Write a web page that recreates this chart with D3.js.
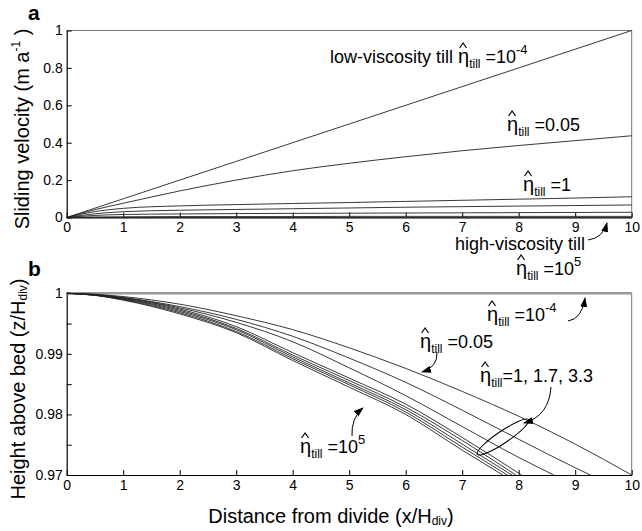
<!DOCTYPE html>
<html>
<head>
<meta charset="utf-8">
<script src="https://cdn.jsdelivr.net/npm/d3@7"></script>
<style>
  html, body { margin: 0; padding: 0; background: #fff; }
  svg text { font-family: "Liberation Sans", Arial, Helvetica, sans-serif; fill: #000; }
</style>
</head>
<body>
<div id="chart"></div>
<script>
// ---- data: panel a, sliding velocity (m/a) vs x/Hdiv ----------------------------
const xA = [0, 0.5, 1, 2, 3, 4, 5, 6, 7, 8, 9, 10];
const velEta1e4 = [0, 0.05, 0.1, 0.2, 0.3, 0.4, 0.5, 0.6, 0.7, 0.8, 0.9, 1.0];
const velEta005 = [0, 0.042, 0.076, 0.142, 0.2, 0.25, 0.29, 0.325, 0.357, 0.385, 0.411, 0.437];
const velEta1   = [0, 0.032, 0.049, 0.062, 0.069, 0.075, 0.08, 0.086, 0.092, 0.098, 0.104, 0.111];
const velEta17  = [0, 0.02, 0.031, 0.039, 0.043, 0.047, 0.051, 0.055, 0.058, 0.061, 0.064, 0.067];
const velEta33  = [0, 0.011, 0.016, 0.019, 0.021, 0.022, 0.023, 0.024, 0.025, 0.026, 0.027, 0.028];
const velEta10  = [0, 0.003, 0.004, 0.005, 0.005, 0.005, 0.006, 0.006, 0.006, 0.006, 0.006, 0.006];
const velEta1e5 = [0, 0, 0, 0, 0, 0, 0, 0, 0, 0, 0, 0];
const seriesA = [velEta1e4, velEta005, velEta1, velEta17, velEta33, velEta10, velEta1e5];

// ---- data: panel b, surface height z/Hdiv vs x/Hdiv ([x, z] pairs) ---------------
const hEta1e4 = [[0, 1], [10, 1]];
const hEta005 = [[0, 1], [0.5, 0.99984], [1, 0.99946], [2, 0.9982], [3, 0.9963], [4, 0.9940], [5, 0.9910], [6, 0.9876], [7, 0.9838], [8, 0.9797], [9, 0.9751], [10, 0.97]];
const hEta1   = [[0, 1], [0.5, 0.9998], [1, 0.99932], [2, 0.9978], [3, 0.9957], [4, 0.9929], [5, 0.9893], [6, 0.9853], [7, 0.9807], [8, 0.9759], [9, 0.9712], [9.27, 0.97]];
const hEta17  = [[0, 1], [0.5, 0.99978], [1, 0.99926], [2, 0.9976], [3, 0.9952], [4, 0.9920], [5, 0.9877], [6, 0.9831], [7, 0.9780], [8, 0.9729], [8.62, 0.97]];
const hEta33  = [[0, 1], [0.5, 0.99972], [1, 0.9992], [2, 0.9974], [3, 0.9945], [4, 0.9902], [5, 0.9860], [6, 0.9817], [7, 0.9762], [8.05, 0.97]];
const hEta10  = [[0, 1], [0.5, 0.99971], [1, 0.99912], [2, 0.9972], [3, 0.9942], [4, 0.9898], [5, 0.9856], [6, 0.9812], [7, 0.9757], [7.95, 0.97]];
const hEta100 = [[0, 1], [0.5, 0.9997], [1, 0.99905], [2, 0.9970], [3, 0.9940], [4, 0.9895], [5, 0.9852], [6, 0.9808], [7, 0.9751], [7.88, 0.97]];
const hEta1e3 = [[0, 1], [0.5, 0.99968], [1, 0.99895], [2, 0.9968], [3, 0.9937], [4, 0.9892], [5, 0.9849], [6, 0.9804], [7, 0.9746], [7.8, 0.97]];
const hEta1e5 = [[0, 1], [0.5, 0.99966], [1, 0.99887], [2, 0.9966], [3, 0.9935], [4, 0.9889], [5, 0.9845], [6, 0.9800], [7, 0.9741], [7.72, 0.97]];
const seriesB = [hEta005, hEta1, hEta17, hEta33, hEta10, hEta100, hEta1e3, hEta1e5];

// ---- ticks ----------------------------------------------------------------------
const xTicks = [0, 1, 2, 3, 4, 5, 6, 7, 8, 9, 10];
const yTicksA = [0, 0.2, 0.4, 0.6, 0.8, 1];
const yLabelsA = ['0', '0.2', '0.4', '0.6', '0.8', '1'];
const yTicksB = [0.97, 0.975, 0.98, 0.985, 0.99, 0.995, 1];
const yLabelsB = ['0.97', '', '0.98', '', '0.99', '', '1'];

// ---- svg ------------------------------------------------------------------------
const width = 642, height = 531;
const left = 66.7, right = 631.7;
const svg = d3.select('#chart').append('svg')
  .attr('width', width).attr('height', height);

const defs = svg.append('defs');
defs.append('marker')
  .attr('id', 'arrow')
  .attr('markerUnits', 'userSpaceOnUse')
  .attr('markerWidth', 10).attr('markerHeight', 10)
  .attr('viewBox', '0 -5 10 10')
  .attr('refX', 9).attr('refY', 0)
  .attr('orient', 'auto')
  .append('path').attr('d', 'M0,-3.5L10,0L0,3.5Z').attr('fill', '#000');

defs.append('clipPath').attr('id', 'clipB')
  .append('rect').attr('x', left).attr('y', 290).attr('width', right - left).attr('height', 185.5);

const xScale = d3.scaleLinear().domain([0, 10]).range([left, right]);
const yScaleA = d3.scaleLinear().domain([0, 1]).range([217.5, 30.5]);
const yScaleB = d3.scaleLinear().domain([0.97, 1]).range([475, 293.3]);

// 軸を描く-------------------------------------------------------------------------
function drawAxes (yScale, yTicks, yLabels) {
  const [y0, y1] = yScale.range();
  // box top/right
  svg.append('path')
    .attr('d', `M${left},${y1}H${right}V${y0}`)
    .attr('fill', 'none').attr('stroke', '#777').attr('stroke-width', 1);
  const gx = svg.append('g')
    .attr('transform', `translate(0,${y0})`)
    .call(d3.axisBottom(xScale).tickValues(xTicks).tickSizeInner(-5).tickSizeOuter(0).tickPadding(5)
      .tickFormat(d => String(d)));
  const gy = svg.append('g')
    .attr('transform', `translate(${left},0)`)
    .call(d3.axisLeft(yScale).tickValues(yTicks).tickSizeInner(-5).tickSizeOuter(0).tickPadding(4)
      .tickFormat((d, i) => yLabels[i]));
  [gx, gy].forEach(g => {
    g.select('.domain').attr('stroke', '#000').attr('stroke-width', 1.2);
    g.selectAll('.tick line').attr('stroke', '#000');
    g.selectAll('.tick text')
      .attr('font-family', '"Liberation Sans", Arial, sans-serif')
      .attr('font-size', '14px').attr('fill', '#000');
  });
}

drawAxes(yScaleA, yTicksA, yLabelsA);
drawAxes(yScaleB, yTicksB, yLabelsB);

// 線: panel a
const lineA = d3.line().x((d, i) => xScale(xA[i])).y(d => yScaleA(d)).curve(d3.curveMonotoneX);
seriesA.forEach(s => {
  svg.append('path').datum(s)
    .attr('d', lineA)
    .attr('fill', 'none').attr('stroke', '#222').attr('stroke-width', 0.9);
});

// 線: panel b
const lineB = d3.line().x(d => xScale(d[0])).y(d => yScaleB(d[1])).curve(d3.curveMonotoneX);
svg.append('path').datum(hEta1e4)
  .attr('d', lineB)
  .attr('fill', 'none').attr('stroke', '#999').attr('stroke-width', 2.5);
const gB = svg.append('g').attr('clip-path', 'url(#clipB)');
seriesB.forEach(s => {
  gB.append('path').datum(s)
    .attr('d', lineB)
    .attr('fill', 'none').attr('stroke', '#222').attr('stroke-width', 0.9);
});

// ---- titles -----------------------------------------------------------------------
svg.append('text').attr('x', 28).attr('y', 20)
  .attr('font-size', '21px').attr('font-weight', 'bold').text('a');
svg.append('text').attr('x', 28).attr('y', 276)
  .attr('font-size', '21px').attr('font-weight', 'bold').text('b');

const ta = svg.append('text')
  .attr('transform', 'translate(29,129) rotate(-90)')
  .attr('text-anchor', 'middle').attr('font-size', '20px');
ta.append('tspan').text('Sliding velocity (m a');
ta.append('tspan').attr('font-size', '12px').attr('dy', -9).text('-1');
ta.append('tspan').attr('dy', 9).text(' )');

const tb = svg.append('text')
  .attr('transform', 'translate(25,389) rotate(-90)')
  .attr('text-anchor', 'middle').attr('font-size', '20px');
tb.append('tspan').text('Height above bed (z/H');
tb.append('tspan').attr('font-size', '12px').attr('dy', 2).text('div');
tb.append('tspan').attr('dy', -2).text(')');

const tx = svg.append('text')
  .attr('x', 331).attr('y', 523)
  .attr('text-anchor', 'middle').attr('font-size', '20px');
tx.append('tspan').text('Distance from divide (x/H');
tx.append('tspan').attr('font-size', '12px').attr('dy', 2).text('div');
tx.append('tspan').attr('dy', -2).text(')');

// ---- annotations: eta-hat labels --------------------------------------------------
function etaLabel (x, y, rest, sup, prefix) {
  const t = svg.append('text').attr('x', x).attr('y', y).attr('font-size', '18px');
  if (prefix) t.append('tspan').text(prefix);
  t.append('tspan').attr('font-size', '20px').text('η');
  t.append('tspan').attr('font-size', '12px').attr('dy', 5).text('till');
  t.append('tspan').attr('dy', -5).text(rest);
  if (sup) t.append('tspan').attr('font-size', '13px').attr('dy', -9).text(sup);
  // hat over eta
  const idx = prefix ? prefix.length : 0;
  const x0 = t.node().getStartPositionOfChar(idx).x;
  const x1 = t.node().getEndPositionOfChar(idx).x;
  const cx = (x0 + x1) / 2 - 0.5;
  svg.append('path')
    .attr('d', `M${cx - 3.5},${y - 15}L${cx},${y - 20}L${cx + 3.5},${y - 15}`)
    .attr('fill', 'none').attr('stroke', '#000').attr('stroke-width', 1.2);
}

// panel a
etaLabel(330, 63, ' =10', '-4', 'low-viscosity till ');
etaLabel(507, 131, ' =0.05');
etaLabel(523, 191, ' =1');
svg.append('text').attr('x', 455).attr('y', 250).attr('font-size', '18px').text('high-viscosity till');
etaLabel(516, 275, ' =10', '5');
// panel b
etaLabel(487, 321, ' =10', '-4');
etaLabel(420, 348, ' =0.05');
etaLabel(480, 382, '=1, 1.7, 3.3');
etaLabel(300, 453, ' =10', '5');

// ---- arrows ---------------------------------------------------------------------------
const arrows = [
  'M588,240Q603,238 607,223',
  'M568,321Q582,319 585,298',
  'M437,352Q438,367 422,372',
  'M551,387Q549,416 524,423',
  'M352,436Q351,418 363,408'
];
arrows.forEach(d => {
  svg.append('path').attr('d', d)
    .attr('fill', 'none').attr('stroke', '#000').attr('stroke-width', 1)
    .attr('marker-end', 'url(#arrow)');
});
svg.append('ellipse')
  .attr('transform', 'translate(503,437) rotate(-34)')
  .attr('rx', 31).attr('ry', 6)
  .attr('fill', 'none').attr('stroke', '#000').attr('stroke-width', 1);
</script>
</body>
</html>
